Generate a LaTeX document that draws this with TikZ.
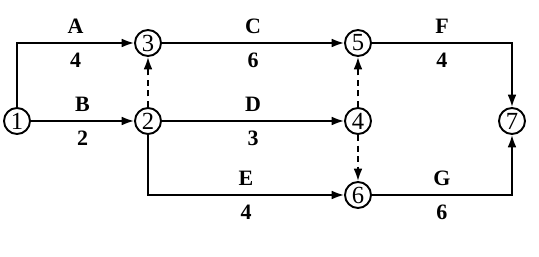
\documentclass[tikz,border=0pt]{standalone}
\usepackage{fontspec}
\setmainfont{Liberation Serif}
\usetikzlibrary{positioning, arrows.meta}
\tikzset{
  ev/.style={circle, draw, line width=1.1pt, minimum size=0.52cm, inner sep=0pt, font=\fontsize{14}{14}\selectfont},
  act/.style={line width=1.1pt, -{Latex[length=7pt,width=5pt]}},
  dum/.style={act, dash pattern=on 3.5pt off 2.5pt},
  lab/.style={font=\bfseries\fontsize{12.5}{12.5}\selectfont, inner sep=0pt}}

\begin{document}
\begin{tikzpicture}[x=0.02cm, y=0.02cm]
  \useasboundingbox (0,0) rectangle (539,257);
    \node [ev] (1) at (17,136) {1};
    \node [ev] (2) at (148,136) {2};
    \node [ev] (3) at (148,214) {3};
    \node [ev] (4) at (358,136) {4};
    \node [ev] (5) at (358,214) {5};
    \node [ev] (6) at (358,62) {6};
    \node [ev] (7) at (512,136) {7};
  \draw [act] (1) |- (3) node [lab, pos=0.75, above=5pt] {A} node [lab, pos=0.75, below=5pt] {4};
  \draw [act] (1) -- (2) node [lab, midway, above=5pt] {B} node [lab, midway, below=5pt] {2};
  \draw [dum] (2) -- (3);
  \draw [act] (3) -- (5) node [lab, midway, above=5pt] {C} node [lab, midway, below=5pt] {6};
  \draw [act] (2) -- (4) node [lab, midway, above=5pt] {D} node [lab, midway, below=5pt] {3};
  \draw [act] (2) |- (6) node [lab, pos=0.75, above=5pt] {E} node [lab, pos=0.75, below=5pt] {4};
  \draw [dum] (4) -- (5);
  \draw [dum] (4) -- (6);
  \draw [act] (5) -| (7) node [lab, pos=0.25, above=5pt] {F} node [lab, pos=0.25, below=5pt] {4};
  \draw [act] (6) -| (7) node [lab, pos=0.25, above=5pt] {G} node [lab, pos=0.25, below=5pt] {6};
\end{tikzpicture}
\end{document}
